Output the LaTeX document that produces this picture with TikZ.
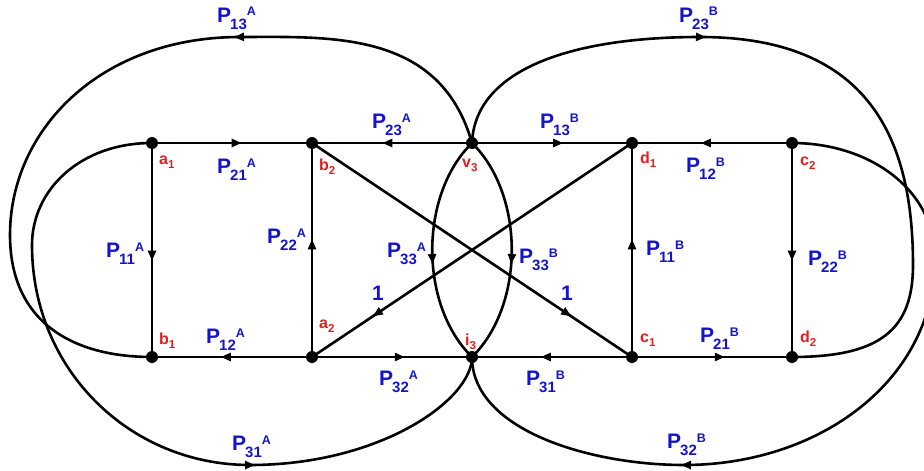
\documentclass[tikz,border=0pt]{standalone}
\usepackage{fontspec}
\setmainfont{Liberation Sans}
\usetikzlibrary{arrows.meta,decorations.markings}
\definecolor{lblue}{RGB}{20,20,205}
\definecolor{lred}{RGB}{228,30,30}
\newcommand{\PL}[2]{P\kern-1pt\raisebox{-7.5pt}{\fontsize{15}{15}\selectfont #1}\raisebox{6pt}{\fontsize{12.5}{12.5}\selectfont #2}}
\newcommand{\NL}[2]{#1\raisebox{-4.5pt}{\fontsize{11.5}{11.5}\selectfont #2}}
\begin{document}
\begin{tikzpicture}[x=1pt,y=-1pt,
  edge/.style={line width=2.6pt},
  marr/.style={postaction={decorate},decoration={markings,mark=at position #1 with {\arrow{Triangle[length=10pt,width=8pt]}}}},
  dot/.style={circle,fill=black,inner sep=0pt,minimum size=12pt},
  nlab/.style={anchor=base west,inner sep=0pt,text=lred,font=\fontsize{16}{16}\selectfont\bfseries},
  plab/.style={anchor=base west,inner sep=0pt,text=lblue,font=\fontsize{21}{21}\selectfont\bfseries}]
\clip (0,0) rectangle (924,471);
% nodes
\node[dot] (a1) at (152,143) {};
\node[dot] (b2) at (312,143) {};
\node[dot] (v3) at (472,143) {};
\node[dot] (d1) at (632,143) {};
\node[dot] (c2) at (792,143) {};
\node[dot] (b1) at (152,357) {};
\node[dot] (a2) at (312,357) {};
\node[dot] (i3) at (472,357) {};
\node[dot] (c1) at (632,357) {};
\node[dot] (d2) at (792,357) {};
% straight edges
\draw[edge,marr=0.56] (a1.center) -- (b2.center);
\draw[edge,marr=0.56] (v3.center) -- (b2.center);
\draw[edge,marr=0.57] (v3.center) -- (d1.center);
\draw[edge,marr=0.57] (c2.center) -- (d1.center);
\draw[edge,marr=0.55] (a1.center) -- (b1.center);
\draw[edge,marr=0.55] (a2.center) -- (b2.center);
\draw[edge,marr=0.55] (c1.center) -- (d1.center);
\draw[edge,marr=0.55] (c2.center) -- (d2.center);
\draw[edge,marr=0.57] (a2.center) -- (b1.center);
\draw[edge,marr=0.58] (a2.center) -- (i3.center);
\draw[edge,marr=0.57] (c1.center) -- (i3.center);
\draw[edge,marr=0.58] (c1.center) -- (d2.center);
\draw[edge,marr=0.81] (d1.center) -- (a2.center);
\draw[edge,marr=0.81] (b2.center) -- (c1.center);
% central lens
\draw[edge,marr=0.56] (v3.center) .. controls (419,195) and (419,305) .. (i3.center);
\draw[edge,marr=0.56] (v3.center) .. controls (525,195) and (525,305) .. (i3.center);
% P13A : v3 -> b1
\coordinate (t13) at (240,37);
\coordinate (l13) at (10,235);
\draw[edge] (v3.center) .. controls (440,30) and (330,37) .. (t13);
\draw[edge,marr=6pt] (t13) .. controls (100,37) and (10,130) .. (l13) .. controls (10,320) and (70,357) .. (b1.center);
% P31A : a1 -> i3
\coordinate (l31) at (32,245);
\coordinate (t31) at (250,465);
\draw[edge] (a1.center) .. controls (80,143) and (32,190) .. (l31) .. controls (32,370) and (130,465) .. (t31);
\draw[edge,marr=5pt] (t31) .. controls (380,465) and (472,400) .. (i3.center);
% P23B : v3 -> d2
\coordinate (t23) at (700,37);
\coordinate (r23) at (913,265);
\draw[edge] (v3.center) .. controls (475,70) and (570,37) .. (t23);
\draw[edge,marr=6pt] (t23) .. controls (870,37) and (913,140) .. (r23) .. controls (913,330) and (880,357) .. (d2.center);
% P32B : c2 -> i3
\coordinate (r32) at (935,258);
\coordinate (t32) at (684,465);
\draw[edge] (c2.center) .. controls (870,143) and (935,190) .. (r32) .. controls (935,380) and (820,465) .. (t32);
\draw[edge,marr=3pt] (t32) .. controls (590,465) and (472,430) .. (i3.center);
% node labels
\node[nlab] (la1) at (159,164) {\NL{a}{1}};
\node[nlab] (lb2) at (319,170) {\NL{b}{2}};
\node[nlab] (lv3) at (462,167) {\NL{v}{3}};
\node[nlab] (ld1) at (640,163) {\NL{d}{1}};
\node[nlab] (lc2) at (800,165) {\NL{c}{2}};
\node[nlab] (lb1) at (159,344) {\NL{b}{1}};
\node[nlab] (la2) at (319,328) {\NL{a}{2}};
\node[nlab] (li3) at (465,345) {\NL{i}{3}};
\node[nlab] (lc1) at (640,342) {\NL{c}{1}};
\node[nlab] (ld2) at (800,342) {\NL{d}{2}};
% edge labels
\node[plab] (p13A) at (217,22) {\PL{13}{A}};
\node[plab] (p23A) at (372,128) {\PL{23}{A}};
\node[plab] (p21A) at (217,173) {\PL{21}{A}};
\node[plab] (p22A) at (267,243) {\PL{22}{A}};
\node[plab] (p11A) at (106,257) {\PL{11}{A}};
\node[plab] (p33A) at (387,257) {\PL{33}{A}};
\node[plab] (p12A) at (206,343) {\PL{12}{A}};
\node[plab] (p32A) at (379,385) {\PL{32}{A}};
\node[plab] (p31A) at (232,450) {\PL{31}{A}};
\node[plab] (oneA) at (372,300) {1};
\node[plab] (p23B) at (679,22) {\PL{23}{B}};
\node[plab] (p13B) at (540,128) {\PL{13}{B}};
\node[plab] (p12B) at (686,172) {\PL{12}{B}};
\node[plab] (p11B) at (646,255) {\PL{11}{B}};
\node[plab] (p22B) at (808,265) {\PL{22}{B}};
\node[plab] (p33B) at (519,263) {\PL{33}{B}};
\node[plab] (oneB) at (561,300) {1};
\node[plab] (p21B) at (700,342) {\PL{21}{B}};
\node[plab] (p31B) at (526,385) {\PL{31}{B}};
\node[plab] (p32B) at (667,448) {\PL{32}{B}};
\end{tikzpicture}
\end{document}
